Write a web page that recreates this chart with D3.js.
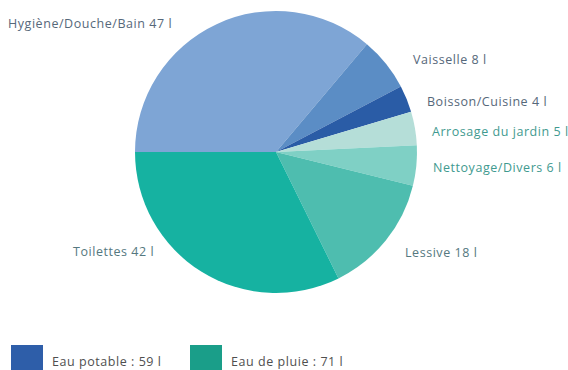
<!DOCTYPE html>
<html><head><meta charset="utf-8">
<script src="https://cdn.jsdelivr.net/npm/d3@7"></script>
<style>body{margin:0;background:#fff}svg{display:block}text{font-family:"Open Sans",sans-serif;letter-spacing:0.55px}</style>
</head><body><svg id="c" width="568" height="370"></svg>
<script>
const categories = ["Hygiène/Douche/Bain","Vaisselle","Boisson/Cuisine","Arrosage du jardin","Nettoyage/Divers","Lessive","Toilettes"];
const values = [47,8,4,5,6,18,42];
const sliceColors = ["#7ea5d5","#5b8dc5","#2a5ca6","#b5ded8","#7fd0c5","#4ebdaf","#16b2a1"];
const labelColors = ["#56687a","#56687a","#56687a","#3f9a8f","#3f9a8f","#557880","#557880"];
const labelPos = [[8,28,"start"],[413,64,"start"],[427,106,"start"],[432,136,"start"],[433,172,"start"],[405,257,"start"],[73,256,"start"]];
const legendLabels = ["Eau potable : 59 l","Eau de pluie : 71 l"];
const legendColors = ["#2e5ea9","#1a9e89"];

const svg = d3.select("#c");
const cx = 276, cy = 152, r = 141;
const pie = d3.pie().sort(null).startAngle(-Math.PI/2).endAngle(1.5*Math.PI);
const arc = d3.arc().innerRadius(0).outerRadius(r);
const g = svg.append("g").attr("transform",`translate(${cx},${cy})`);
g.selectAll("path").data(pie(values)).join("path")
  .attr("d",arc).attr("fill",(d,i)=>sliceColors[i]);

svg.selectAll("text.lab").data(categories).join("text").attr("class","lab")
  .attr("x",(d,i)=>labelPos[i][0]).attr("y",(d,i)=>labelPos[i][1])
  .attr("text-anchor",(d,i)=>labelPos[i][2])
  .attr("fill",(d,i)=>labelColors[i]).attr("font-size",12.5)
  .text((d,i)=>`${d} ${values[i]} l`);

const lx = d3.scaleOrdinal().domain(legendLabels).range([11,190]);
const lg = svg.selectAll("g.leg").data(legendLabels).join("g").attr("class","leg")
  .attr("transform",d=>`translate(${lx(d)},345)`);
lg.append("rect").attr("width",32).attr("height",28).attr("fill",(d,i)=>legendColors[i]);
lg.append("text").attr("x",41).attr("y",21).attr("font-size",12.5).attr("fill","#4f4f4f").text(d=>d);
</script></body></html>
